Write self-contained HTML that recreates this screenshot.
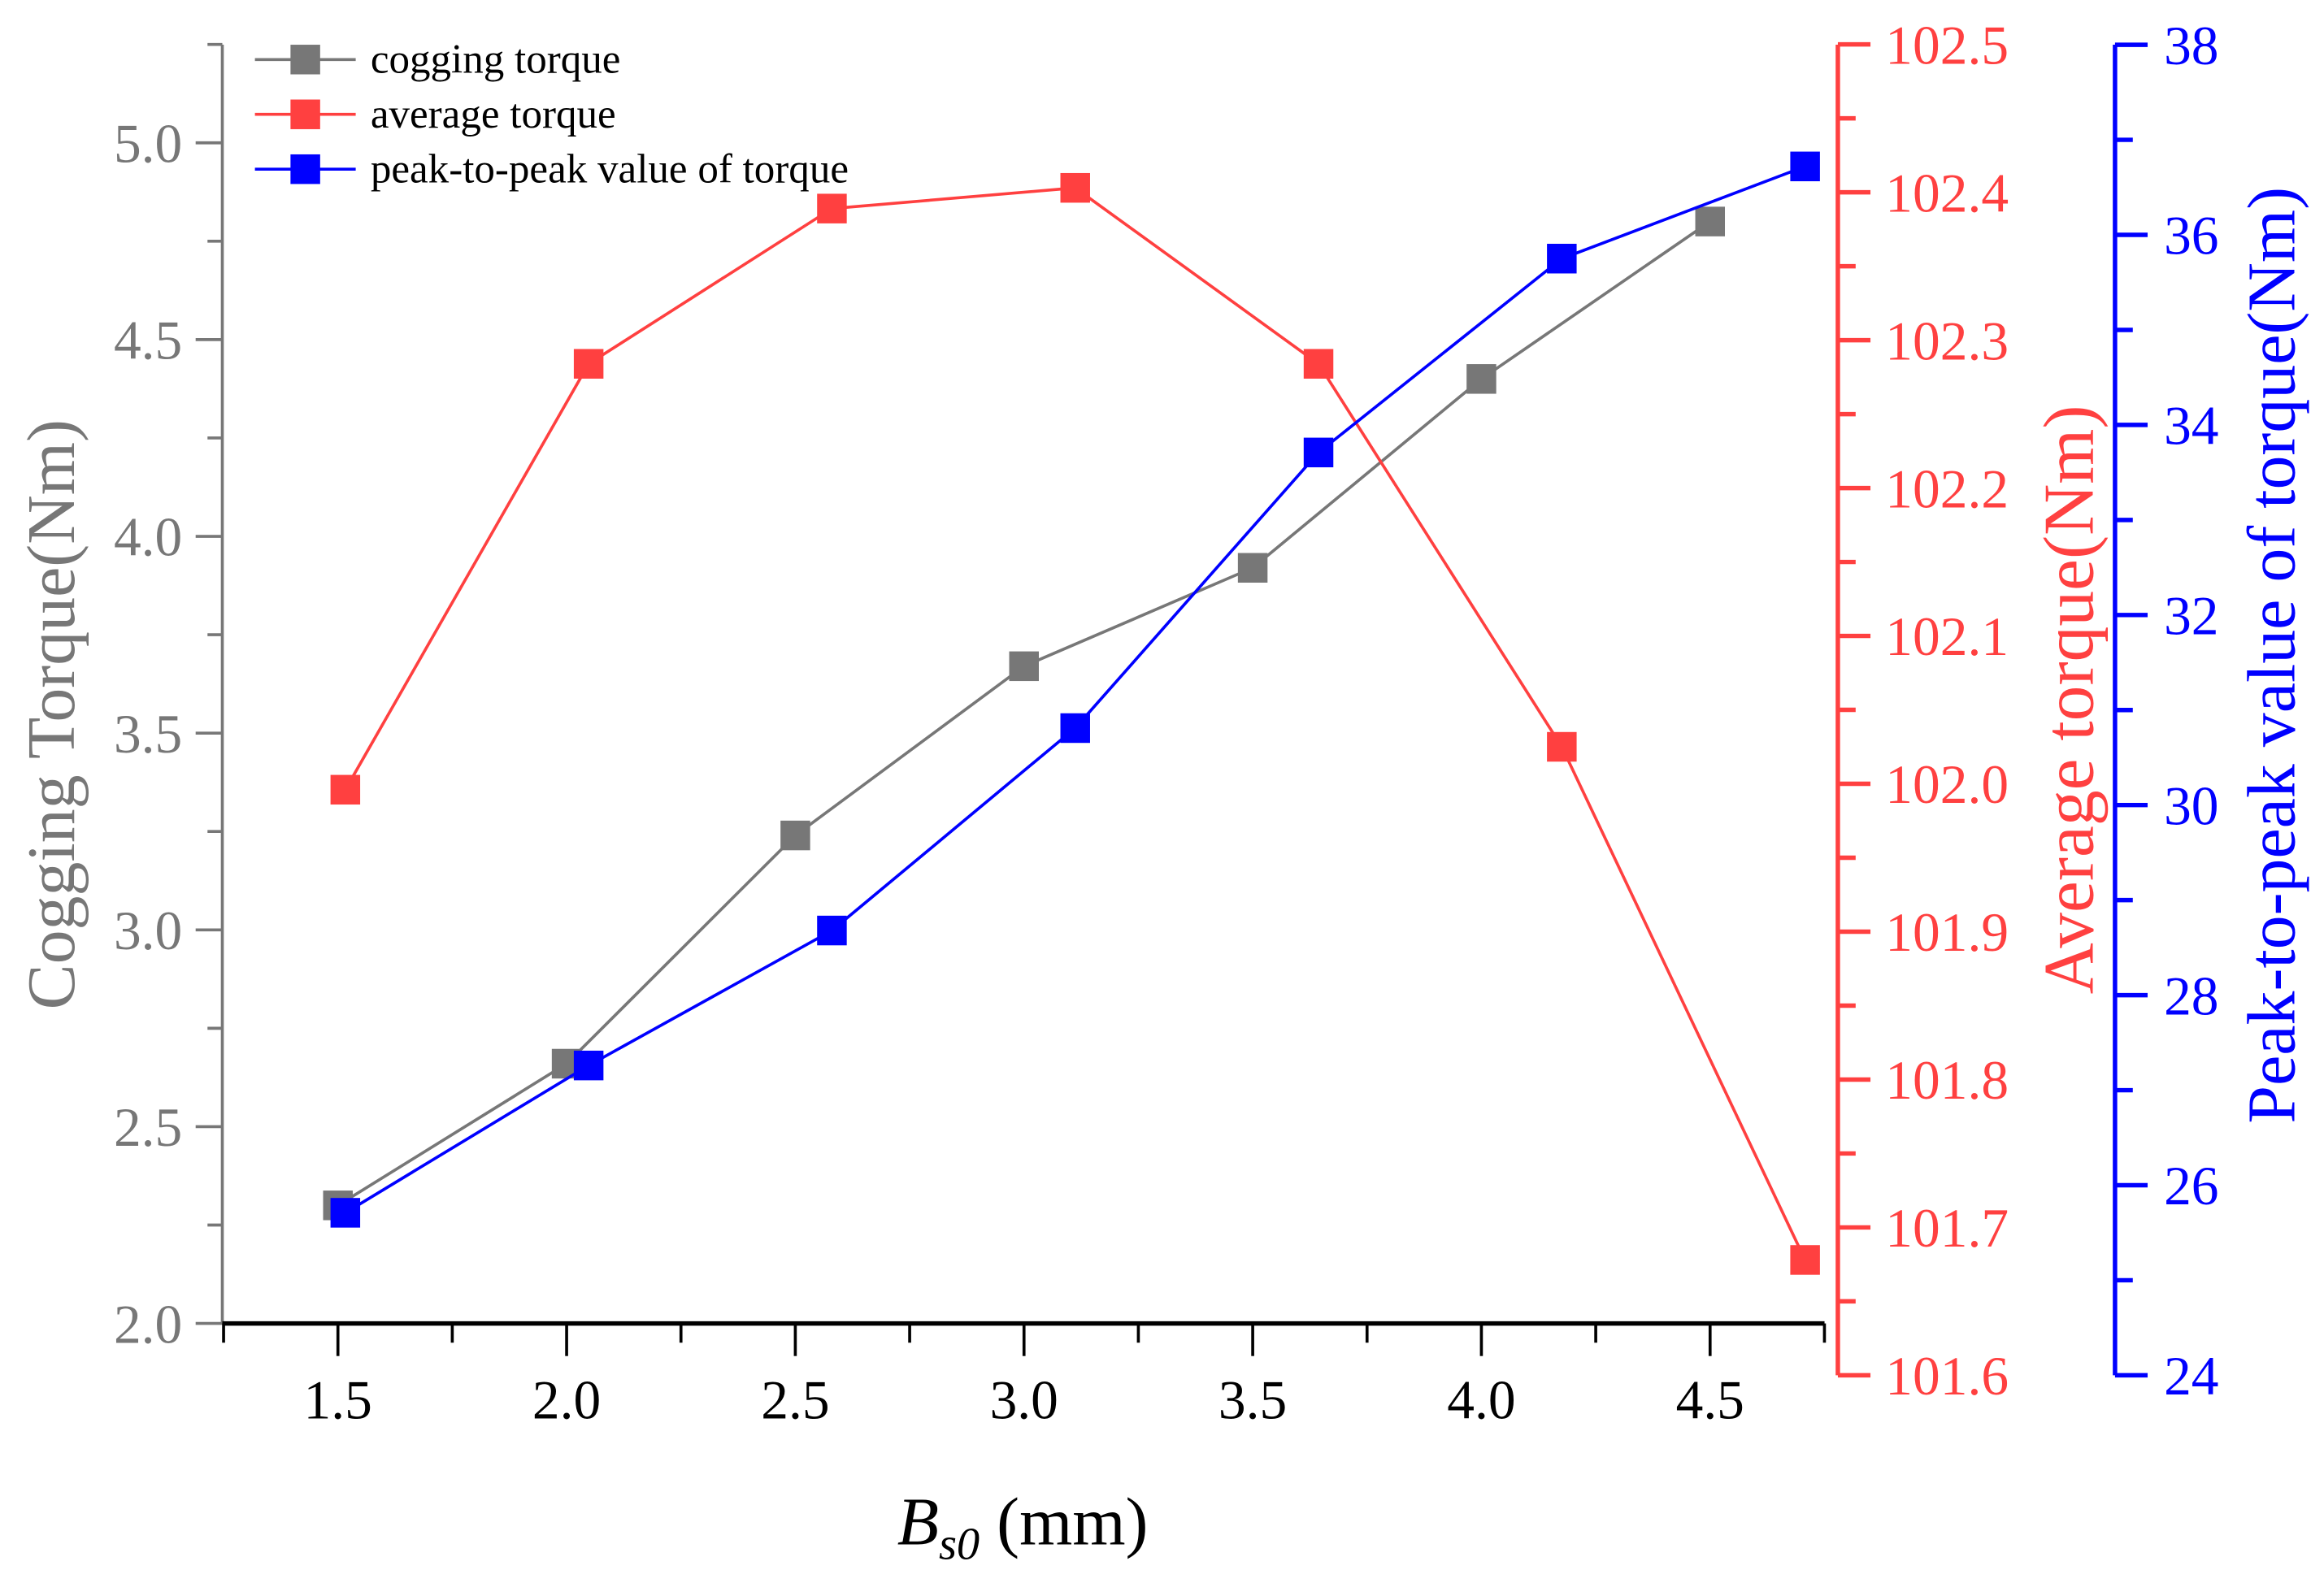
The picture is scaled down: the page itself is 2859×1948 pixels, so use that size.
<!DOCTYPE html>
<html><head><meta charset="utf-8"><style>html,body{margin:0;padding:0;background:#fff}svg{display:block}text{font-family:"Liberation Serif",serif}</style></head>
<body>
<svg id="chart" width="2859" height="1948" viewBox="0 0 1568 1068" xmlns="http://www.w3.org/2000/svg"></svg>
<script>
const xCats=[1.5,2.0,2.5,3.0,3.5,4.0,4.5];
const cogging=[2.30,2.66,3.24,3.67,3.92,4.40,4.80];
const avgTorque=[101.996,102.284,102.389,102.403,102.284,102.025,101.678];
const p2p=[25.71,27.26,28.68,30.81,33.71,35.75,36.72];
const xTicks=["1.5","2.0","2.5","3.0","3.5","4.0","4.5"];
const leftTicks=["2.0","2.5","3.0","3.5","4.0","4.5","5.0"];
const redTicks=["101.6","101.7","101.8","101.9","102.0","102.1","102.2","102.3","102.4","102.5"];
const blueTicks=["24","26","28","30","32","34","36","38"];

const svg=document.getElementById('chart');
const NS='http://www.w3.org/2000/svg';
function mk(tag,at,parent){const e=document.createElementNS(NS,tag);for(const k in at)e.setAttribute(k,at[k]);(parent||svg).appendChild(e);return e;}
const xS=v=>228+(v-1.5)*308.6;
const xS2=v=>233+(v-1.5)*328.3;
const yL=v=>893-(v-2)*265.6;
const yR=v=>928-(v-101.6)*998;
const yB=v=>928-(v-24)*64.14;
const GR='#777',RD='#ff4040',BL='#0000ff';
let e;
e=mk('line',{x1:150,y1:30,x2:150,y2:893,stroke:GR,'stroke-width':2});

for(let v=2;v<=5.26;v+=0.25){const maj=Math.abs(v*2-Math.round(v*2))<1e-6;
 e=mk('line',{x1:150-(maj?18:10),y1:yL(v),x2:150,y2:yL(v),stroke:GR,'stroke-width':2});
 }
leftTicks.forEach(t=>{e=mk('text',{x:123,y:yL(+t)+13,'text-anchor':'end','font-size':37,fill:GR});e.textContent=t;
 });
e=mk('text',{x:0,y:0,transform:'translate(50,482) rotate(-90)','text-anchor':'middle','font-size':46,fill:GR});e.textContent='Cogging Torque(Nm)';

e=mk('line',{x1:150,y1:893,x2:1231,y2:893,stroke:'#000','stroke-width':3});

for(let i=0;i<=14;i++){const v=1.25+i*0.25;const maj=i%2===1;
 e=mk('line',{x1:xS(v),y1:893,x2:xS(v),y2:893+(maj?22:13),stroke:'#000','stroke-width':2});
 }
xTicks.forEach(t=>{e=mk('text',{x:xS(+t),y:957,'text-anchor':'middle','font-size':37,fill:'#000'});e.textContent=t;
 });
e=mk('text',{x:690,y:1042,'text-anchor':'middle','font-size':46,fill:'#000'});
e.innerHTML='<tspan font-style="italic">B</tspan><tspan font-style="italic" font-size="31" dy="10">s0</tspan><tspan dy="-10"> (mm)</tspan>';

e=mk('line',{x1:1240,y1:30,x2:1240,y2:928,stroke:RD,'stroke-width':3});

for(let i=0;i<=18;i++){const v=101.6+i*0.05;const maj=i%2===0;
 e=mk('line',{x1:1240,y1:yR(v),x2:1240+(maj?22:12),y2:yR(v),stroke:RD,'stroke-width':3});
 }
redTicks.forEach(t=>{e=mk('text',{x:1272,y:yR(+t)+13,'font-size':37,fill:RD});e.textContent=t;
 });
e=mk('text',{x:0,y:0,transform:'translate(1412,472) rotate(-90)','text-anchor':'middle','font-size':48,fill:RD});e.textContent='Average torque(Nm)';

e=mk('line',{x1:1427,y1:30,x2:1427,y2:928,stroke:BL,'stroke-width':3});

for(let v=24;v<=38;v+=1){const maj=v%2===0;
 e=mk('line',{x1:1427,y1:yB(v),x2:1427+(maj?22:12),y2:yB(v),stroke:BL,'stroke-width':3});
 }
blueTicks.forEach(t=>{e=mk('text',{x:1460,y:yB(+t)+13,'font-size':37,fill:BL});e.textContent=t;
 });
e=mk('text',{x:0,y:0,transform:'translate(1548,442) rotate(-90)','text-anchor':'middle','font-size':46,fill:BL});e.textContent='Peak-to-peak value of torque(Nm)';

function series(vals,xf,yf,col,name){
 const pts=vals.map((v,i)=>xf(xCats[i])+','+yf(v)).join(' ');
 e=mk('polyline',{points:pts,fill:'none',stroke:col,'stroke-width':2});
 
 vals.forEach((v,i)=>{e=mk('rect',{x:xf(xCats[i])-10,y:yf(v)-10,width:20,height:20,fill:col});
  });
}
series(cogging,xS,yL,GR,'cogging-torque');
series(avgTorque,xS2,yR,RD,'average-torque');
series(p2p,xS2,yB,BL,'peak-to-peak');
const leg=[['cogging torque',GR],['average torque',RD],['peak-to-peak value of torque',BL]];
leg.forEach((l,i)=>{const y=40+i*37;
 e=mk('line',{x1:172,y1:y,x2:240,y2:y,stroke:l[1],'stroke-width':2});
 
 e=mk('rect',{x:196,y:y-10,width:20,height:20,fill:l[1]});
 
 e=mk('text',{x:250,y:y+9,'font-size':28,fill:'#000'});e.textContent=l[0];
 });
</script>
</body></html>
